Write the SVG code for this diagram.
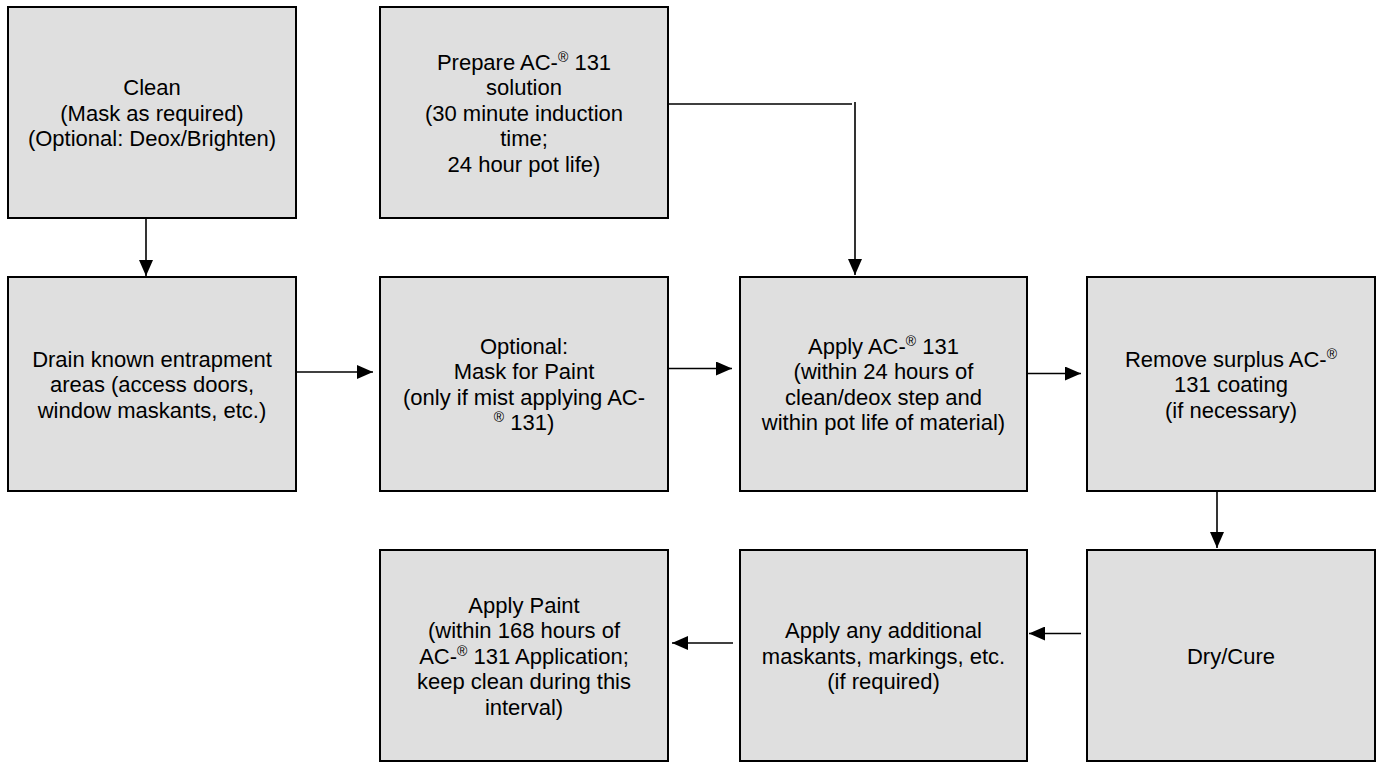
<svg xmlns="http://www.w3.org/2000/svg" width="1376" height="762" viewBox="0 0 1376 762">
  <style>
    .box { fill: #dfdfdf; stroke: #000; stroke-width: 2; }
    .lbl { font-family: "Liberation Sans", Arial, sans-serif; font-size: 22px; fill: #000; text-anchor: middle; }
    .sup { font-size: 14px; }
    .conn { fill: none; stroke: #000; stroke-width: 1.6; }
  </style>
  <defs>
    <marker id="arrow" markerUnits="userSpaceOnUse" markerWidth="16" markerHeight="14" refX="16" refY="7" orient="auto">
      <path d="M0,0 L16,7 L0,14 z" fill="#000"/>
    </marker>
  </defs>
  <rect width="1376" height="762" fill="#fff"/>

  <g id="clean">
    <rect class="box" x="8" y="7" width="288" height="211"/>
    <text class="lbl" x="152" y="95">Clean</text>
    <text class="lbl" x="152" y="120.5">(Mask as required)</text>
    <text class="lbl" x="152" y="146">(Optional: Deox/Brighten)</text>
  </g>

  <g id="prepare">
    <rect class="box" x="380" y="7" width="288" height="211"/>
    <text class="lbl" x="524" y="69.5">Prepare AC-<tspan class="sup" dy="-8">®</tspan><tspan dy="8"> 131</tspan></text>
    <text class="lbl" x="524" y="95">solution</text>
    <text class="lbl" x="524" y="120.5">(30 minute induction</text>
    <text class="lbl" x="524" y="146">time;</text>
    <text class="lbl" x="524" y="171.5">24 hour pot life)</text>
  </g>

  <g id="drain">
    <rect class="box" x="8" y="277" width="288" height="214"/>
    <text class="lbl" x="152" y="366.5">Drain known entrapment</text>
    <text class="lbl" x="152" y="392">areas (access doors,</text>
    <text class="lbl" x="152" y="417.5">window maskants, etc.)</text>
  </g>

  <g id="optional">
    <rect class="box" x="380" y="277" width="288" height="214"/>
    <text class="lbl" x="524" y="353.75">Optional:</text>
    <text class="lbl" x="524" y="379.25">Mask for Paint</text>
    <text class="lbl" x="524" y="404.75">(only if mist applying AC-</text>
    <text class="lbl" x="524" y="430.25"><tspan class="sup" dy="-8">®</tspan><tspan dy="8"> 131)</tspan></text>
  </g>

  <g id="apply-ac">
    <rect class="box" x="740" y="277" width="287" height="214"/>
    <text class="lbl" x="883.5" y="353.75">Apply AC-<tspan class="sup" dy="-8">®</tspan><tspan dy="8"> 131</tspan></text>
    <text class="lbl" x="883.5" y="379.25">(within 24 hours of</text>
    <text class="lbl" x="883.5" y="404.75">clean/deox step and</text>
    <text class="lbl" x="883.5" y="430.25">within pot life of material)</text>
  </g>

  <g id="remove">
    <rect class="box" x="1087" y="277" width="288" height="214"/>
    <text class="lbl" x="1231" y="366.5">Remove surplus AC-<tspan class="sup" dy="-8">®</tspan></text>
    <text class="lbl" x="1231" y="392">131 coating</text>
    <text class="lbl" x="1231" y="417.5">(if necessary)</text>
  </g>

  <g id="apply-paint">
    <rect class="box" x="380" y="550" width="288" height="211"/>
    <text class="lbl" x="524" y="612.5">Apply Paint</text>
    <text class="lbl" x="524" y="638">(within 168 hours of</text>
    <text class="lbl" x="524" y="663.5">AC-<tspan class="sup" dy="-8">®</tspan><tspan dy="8"> 131 Application;</tspan></text>
    <text class="lbl" x="524" y="689">keep clean during this</text>
    <text class="lbl" x="524" y="714.5">interval)</text>
  </g>

  <g id="additional">
    <rect class="box" x="740" y="550" width="287" height="211"/>
    <text class="lbl" x="883.5" y="638">Apply any additional</text>
    <text class="lbl" x="883.5" y="663.5">maskants, markings, etc.</text>
    <text class="lbl" x="883.5" y="689">(if required)</text>
  </g>

  <g id="dry-cure">
    <rect class="box" x="1087" y="550" width="288" height="211"/>
    <text class="lbl" x="1231" y="663.5">Dry/Cure</text>
  </g>

  <g id="connectors">
    <path class="conn" d="M146,218 V276" marker-end="url(#arrow)"/>
    <path class="conn" d="M668,104 H852 M855,102 V275" marker-end="url(#arrow)"/>
    <path class="conn" d="M296,372 H373" marker-end="url(#arrow)"/>
    <path class="conn" d="M668,368.5 H732" marker-end="url(#arrow)"/>
    <path class="conn" d="M1028,373.5 H1081" marker-end="url(#arrow)"/>
    <path class="conn" d="M1217,491 V548" marker-end="url(#arrow)"/>
    <path class="conn" d="M1081,633.5 H1029" marker-end="url(#arrow)"/>
    <path class="conn" d="M733,643 H672" marker-end="url(#arrow)"/>
  </g>
</svg>
